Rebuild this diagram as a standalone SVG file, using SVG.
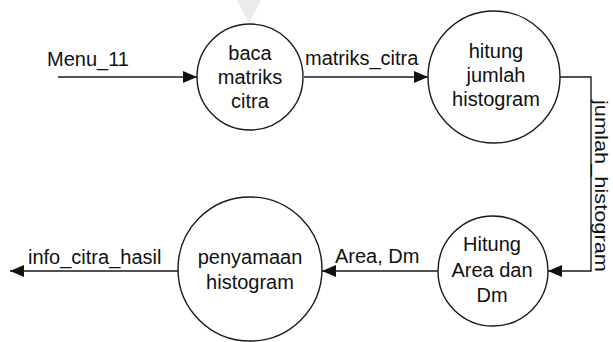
<svg xmlns="http://www.w3.org/2000/svg" width="613" height="342" viewBox="0 0 613 342">
<style>
.n{fill:#fff;stroke:#1a1a1a;stroke-width:1.4}
.t{font-family:"Liberation Sans",Arial,sans-serif;font-size:20px;fill:#111;text-anchor:middle}
.l{font-family:"Liberation Sans",Arial,sans-serif;font-size:20px;fill:#111}
.c{fill:none;stroke:#1a1a1a;stroke-width:1.4}
</style>
<defs>
<marker id="ah" markerWidth="14" markerHeight="12" refX="14" refY="6" orient="auto" markerUnits="userSpaceOnUse">
<path d="M0,0 L14,6 L0,12 Z" fill="#111"/>
</marker>
</defs>
<rect width="613" height="342" fill="#fff"/>
<polygon points="237,0 261,0 249,23" fill="#ebebeb"/>
<g id="connectors">
<path class="c" d="M58,77 H197" marker-end="url(#ah)"/>
<path class="c" d="M304,77 H428" marker-end="url(#ah)"/>
<path class="c" d="M560,77 H591 V271 H548" marker-end="url(#ah)"/>
<path class="c" d="M438,271 H322" marker-end="url(#ah)"/>
<path class="c" d="M178,271 H10" marker-end="url(#ah)"/>
<text class="l" x="47" y="66">Menu_11</text>
<text class="l" x="305" y="65">matriks_citra</text>
<text class="l" x="595" y="100" transform="rotate(90 595 100)" style="font-size:19px" textLength="172" lengthAdjust="spacingAndGlyphs">jumlah_histogram</text>
<text class="l" x="335" y="263">Area, Dm</text>
<text class="l" x="28" y="264">info_citra_hasil</text>
</g>
<g id="n1">
<circle class="n" cx="250" cy="77" r="53"/>
<text class="t" x="250" y="60">baca</text>
<text class="t" x="250" y="84">matriks</text>
<text class="t" x="250" y="108">citra</text>
</g>
<g id="n2">
<circle class="n" cx="494" cy="77" r="66"/>
<text class="t" x="496" y="58">hitung</text>
<text class="t" x="496" y="82">jumlah</text>
<text class="t" x="496" y="106">histogram</text>
</g>
<g id="n3">
<circle class="n" cx="250" cy="269" r="72"/>
<text class="t" x="250" y="264">penyamaan</text>
<text class="t" x="250" y="289">histogram</text>
</g>
<g id="n4">
<circle class="n" cx="493" cy="271" r="55"/>
<text class="t" x="492" y="251">Hitung</text>
<text class="t" x="492" y="277">Area dan</text>
<text class="t" x="492" y="302">Dm</text>
</g>
</svg>
